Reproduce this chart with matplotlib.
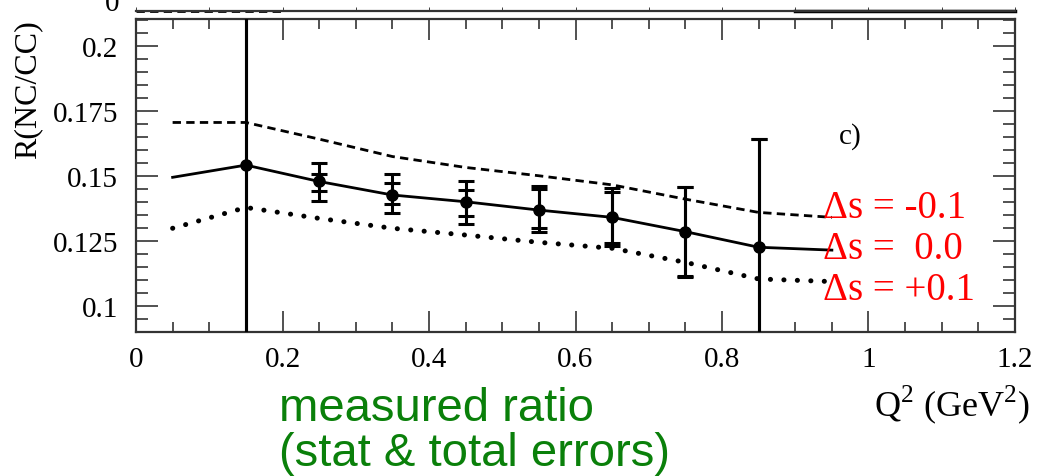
#!/usr/bin/env python3
"""NC/CC ratio vs Q^2 with strange-quark (Delta s) model curves, panel c."""

import matplotlib

matplotlib.use("Agg")
import matplotlib.pyplot as plt  # noqa: E402
from matplotlib.ticker import FixedLocator, MultipleLocator  # noqa: E402

# measured ratio
q2 = [0.15, 0.25, 0.35, 0.45, 0.55, 0.65, 0.75, 0.85]
ratio = [0.1541, 0.1478, 0.1426, 0.1400, 0.1368, 0.1340, 0.1285, 0.1225]
tot_up = [0.106, 0.0070, 0.0080, 0.0078, 0.0094, 0.0112, 0.0173, 0.0416]
tot_dn = [0.106, 0.0074, 0.0069, 0.0086, 0.0083, 0.0112, 0.0173, 0.0416]
stat_up = [0.106, 0.0028, 0.0045, 0.0045, 0.0081, 0.0098, 0.0170, 0.0416]
stat_dn = [0.106, 0.0037, 0.0035, 0.0054, 0.0070, 0.0100, 0.0170, 0.0416]

# model predictions
q2_model = [0.05, 0.15, 0.25, 0.35, 0.45, 0.55, 0.65, 0.75, 0.85, 0.95]
r_ds_m01 = [0.1705, 0.1705, 0.1641, 0.1574, 0.1532, 0.1500, 0.1465, 0.1410, 0.1359, 0.1340]
r_ds_0 = [0.1494, 0.1541, 0.1478, 0.1426, 0.1400, 0.1368, 0.1340, 0.1285, 0.1225, 0.1214]
r_ds_p01 = [0.1298, 0.1378, 0.1336, 0.1298, 0.1272, 0.1244, 0.1221, 0.1167, 0.1103, 0.1093]

# pieces of the curves in the panel above that reach its lower edge
upper_dash_x = [0.0, 0.2]
upper_dash_y = [-0.97, -0.97]
upper_solid_x = [0.9, 1.2]
upper_solid_y = [-0.97, -0.97]

yticks = [0.1, 0.125, 0.15, 0.175, 0.2]
ytick_labels = ["0.1", "0.125", "0.15", "0.175", "0.2"]
xticks = [0, 0.2, 0.4, 0.6, 0.8, 1.0, 1.2]
xtick_labels = ["0", "0.2", "0.4", "0.6", "0.8", "1", "1.2"]

plt.rcParams["font.family"] = ["Liberation Serif", "DejaVu Serif"]
plt.rcParams["mathtext.fontset"] = "custom"
plt.rcParams["mathtext.rm"] = "Liberation Serif"
plt.rcParams["lines.scale_dashes"] = False

W, H = 1049, 477
fig = plt.figure(figsize=(W / 100, H / 100), dpi=100)
fig.patch.set_facecolor("white")

ax = fig.add_axes([136 / W, 1 - 333 / H, 879 / W, 313 / H])
ax.set_xlim(0, 1.2)
ax.set_ylim(0.0899, 0.2103)

ax.plot(q2_model, r_ds_m01, color="black", lw=2.0, linestyle=(0, (6.0, 3.8)))
ax.plot(q2_model, r_ds_0, color="black", lw=2.0)
ax.plot(q2_model, r_ds_p01, color="black", lw=3.6, linestyle=(0, (0.1, 9.6)),
        dash_capstyle="round")

ax.errorbar(q2, ratio, yerr=[tot_dn, tot_up], fmt="o", color="black", ms=8,
            elinewidth=2.2, capsize=5.5, capthick=2.2, zorder=5)
ax.errorbar(q2, ratio, yerr=[stat_dn, stat_up], fmt="none", ecolor="black",
            elinewidth=2.2, capsize=5.5, capthick=2.2, zorder=5)

for s in ax.spines.values():
    s.set_linewidth(1.6)
    s.set_color("#333333")

ax.xaxis.set_major_locator(FixedLocator(xticks))
ax.set_xticklabels(xtick_labels)
ax.xaxis.set_minor_locator(MultipleLocator(0.05))
ax.yaxis.set_major_locator(FixedLocator(yticks))
ax.set_yticklabels(ytick_labels)
ax.yaxis.set_minor_locator(MultipleLocator(0.005))
ax.tick_params(which="both", direction="in", top=True, right=True,
               color="#222222", width=1.1, labelsize=21)
ax.tick_params(axis="y", which="major", length=15.5, pad=13)
ax.tick_params(axis="y", which="minor", length=8.5)
ax.tick_params(axis="x", which="major", length=15, pad=10)
ax.tick_params(axis="x", which="minor", length=7.5)

ax.set_ylabel("R(NC/CC)", fontsize=23, loc="top", labelpad=7)
ax.text(1.017, -0.23, "Q$^{2}$ (GeV$^{2}$)", transform=ax.transAxes,
        fontsize=26, ha="right", va="center")
ax.text(0.96, 0.1655, "c)", fontsize=21, ha="left", va="center")

red_labels = ["\u0394s = -0.1", "\u0394s =  0.0", "\u0394s = +0.1"]
red_y = [0.1378, 0.1220, 0.1063]
for lab, yy in zip(red_labels, red_y):
    ax.text(0.938, yy, lab, fontsize=28, color="#ff0000", ha="left",
            va="center", zorder=6)

green_lines = ["measured ratio", "(stat & total errors)"]
green_base = [421, 466]
for lab, py in zip(green_lines, green_base):
    fig.text(279 / W, 1 - py / H, lab, fontsize=34, color="#0a800a",
             family=["Liberation Sans", "DejaVu Sans"], ha="left", va="baseline")

# lower edge of the panel above
ax_up = fig.add_axes([136 / W, 1 - 12 / H, 879 / W, 48 / H])
ax_up.set_xlim(0, 1.2)
ax_up.set_ylim(-1, 2.4)
ax_up.plot(upper_dash_x, upper_dash_y, color="black", lw=2.0,
           linestyle=(0, (6.0, 3.8)), clip_on=False)
ax_up.plot(upper_solid_x, upper_solid_y, color="black", lw=2.5, clip_on=False)
ax_up.yaxis.set_major_locator(FixedLocator([-0.25]))
ax_up.set_yticklabels(["0"])
ax_up.set_xticks([])
ax_up.xaxis.set_minor_locator(MultipleLocator(0.1))
ax_up.tick_params(axis="y", which="both", length=0, labelsize=21, pad=12)
ax_up.tick_params(axis="x", which="minor", direction="in", length=3,
                  color="#222222")
for side in ("left", "right", "top"):
    ax_up.spines[side].set_visible(False)
ax_up.spines["bottom"].set_linewidth(1.6)
ax_up.spines["bottom"].set_color("#333333")
ax_up.set_facecolor("none")

fig.savefig("out.png", dpi=100, facecolor="white")
plt.close(fig)
